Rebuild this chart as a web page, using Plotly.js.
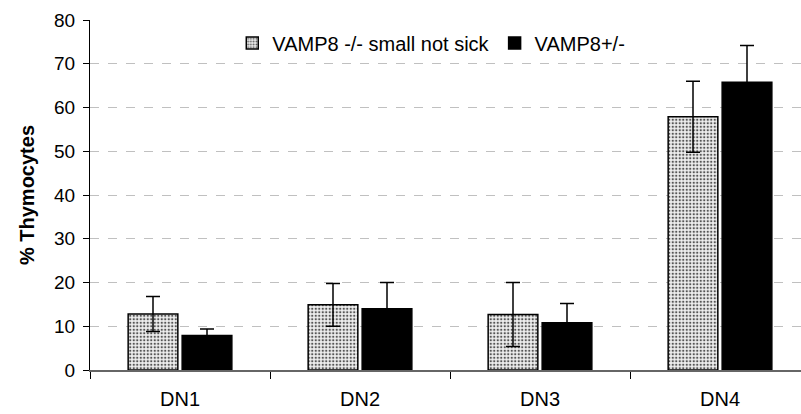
<!DOCTYPE html>
<html>
<head>
<meta charset="utf-8">
<script src="https://cdn.plot.ly/plotly-3.0.1.min.js"></script>
<style>html,body{margin:0;padding:0;background:#fff;}#chart{width:801px;height:414px;}</style>
</head>
<body>
<div id="chart"></div>
<script>
const categories = ["DN1", "DN2", "DN3", "DN4"];
const koName = "VAMP8 -/- small not sick";
const koValues = [12.8, 14.9, 12.7, 57.9];
const koErrors = [4.0, 4.9, 7.3, 8.1];
const hetName = "VAMP8+/-";
const hetValues = [7.9, 14.0, 10.8, 65.8];
const hetErrors = [1.5, 6.0, 4.4, 8.4];
const yTicks = [0, 10, 20, 30, 40, 50, 60, 70, 80];

const fam = "Liberation Sans, Arial, sans-serif";

const traces = [
  {
    type: "bar", name: koName, x: categories, y: koValues,
    marker: {
      color: "#efefef",
      line: {color: "#000", width: 1.5},
      pattern: {shape: ".", fgcolor: "#555", bgcolor: "#efefef", size: 3.5, solidity: 0.35}
    },
    error_y: {type: "data", array: koErrors, visible: true, color: "#000", thickness: 1.5, width: 7}
  },
  {
    type: "bar", name: hetName, x: categories, y: hetValues,
    marker: {color: "#000", line: {color: "#000", width: 1.5}},
    error_y: {type: "data", array: hetErrors, visible: true, color: "#000", thickness: 1.5, width: 7}
  }
];

const layout = {
  width: 801, height: 414,
  margin: {l: 90, r: 0, t: 20, b: 44},
  paper_bgcolor: "#fff", plot_bgcolor: "#fff",
  font: {family: fam, size: 20, color: "#000"},
  barmode: "group",
  bargap: 0.4,
  bargroupgap: 0.08,
  showlegend: true,
  legend: {
    orientation: "h", x: 0.48, xanchor: "center", y: 0.99, yanchor: "top",
    bgcolor: "rgba(0,0,0,0)", font: {family: fam, size: 20, color: "#000"},
    itemwidth: 30, traceorder: "normal"
  },
  xaxis: {
    type: "category", range: [-0.5, 3.45],
    showline: true, linecolor: "#666", linewidth: 1.5,
    ticks: "outside", tickson: "boundaries", ticklen: 7, tickcolor: "#000", tickwidth: 1,
    showgrid: false, zeroline: false, ticklabelstandoff: 10,
    tickfont: {family: fam, size: 20, color: "#000"}
  },
  yaxis: {
    range: [0, 80], tickvals: yTicks, ticktext: yTicks.map(String),
    showline: true, linecolor: "#000", linewidth: 1,
    ticks: "outside", ticklen: 6, tickcolor: "#000",
    showgrid: true, gridcolor: "#c0c0c0", griddash: "dash", gridwidth: 1,
    zeroline: false, ticklabelstandoff: 4,
    tickfont: {family: fam, size: 19, color: "#000"},
    title: {text: "<b>% Thymocytes</b>", font: {family: fam, size: 20, color: "#000"}, standoff: 14}
  }
};

Plotly.newPlot("chart", traces, layout, {displayModeBar: false, staticPlot: true});
</script>
</body>
</html>
